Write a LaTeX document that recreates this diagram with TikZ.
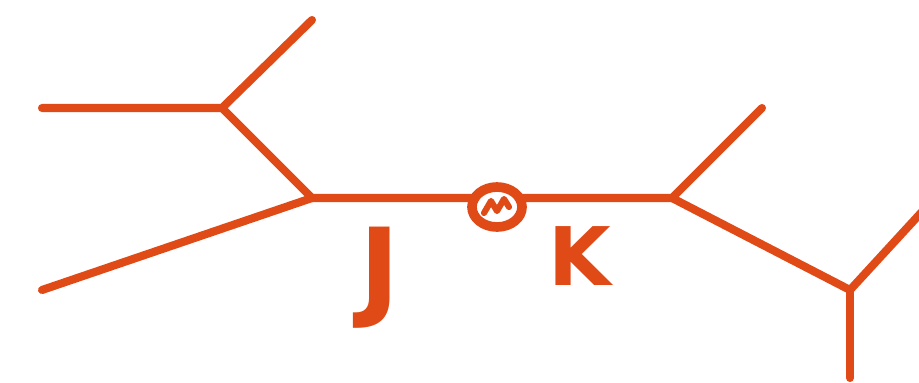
\documentclass[tikz,border=0pt]{standalone}
\usepackage{fontspec}
\setmainfont{DejaVu Sans}
\usetikzlibrary{calc}
\definecolor{ink}{HTML}{E04A16}

\begin{document}
\begin{tikzpicture}[x=0.02cm, y=-0.02cm, line width=4.6pt, line cap=round, line join=round]
  \useasboundingbox (0,0) rectangle (919,382);
  % inner vertices
  \coordinate (A) at (222,108);
  \coordinate (B) at (312,198);
  \coordinate (C) at (672,198);
  \coordinate (D) at (850,290);
  % leaves
  \coordinate (L1) at (42,108);
  \coordinate (L2) at (312,20);
  \coordinate (L3) at (42,290);
  \coordinate (L4) at (762,108);
  \coordinate (L5) at (930,203);
  \coordinate (L6) at (850,378);
  \coordinate (M) at (497,207);
  \draw[ink] (L1) -- (A) -- (L2);
  \draw[ink] (A) -- (B) -- (L3);
  \draw[ink] (B) -- (C) -- (L4);
  \draw[ink] (C) -- (D) -- (L5);
  \draw[ink] (D) -- (L6);
  % marked point on the middle edge
  \draw[ink, fill=white, line width=5.5pt] (M) ellipse [x radius=25, y radius=20];
  \draw[ink, line width=3.5pt] ($(M)+(-13,6)$) -- ($(M)+(-6,-6)$) -- ($(M)+(0,4)$) -- ($(M)+(7,-8)$) -- ($(M)+(12,0)$);
  \node[ink, font=\bfseries\fontsize{62}{62}\selectfont] (J) at (380,278) {J};
  \node[ink, font=\bfseries\fontsize{46}{46}\selectfont] (K) at (580,256) {K};
\end{tikzpicture}
\end{document}
